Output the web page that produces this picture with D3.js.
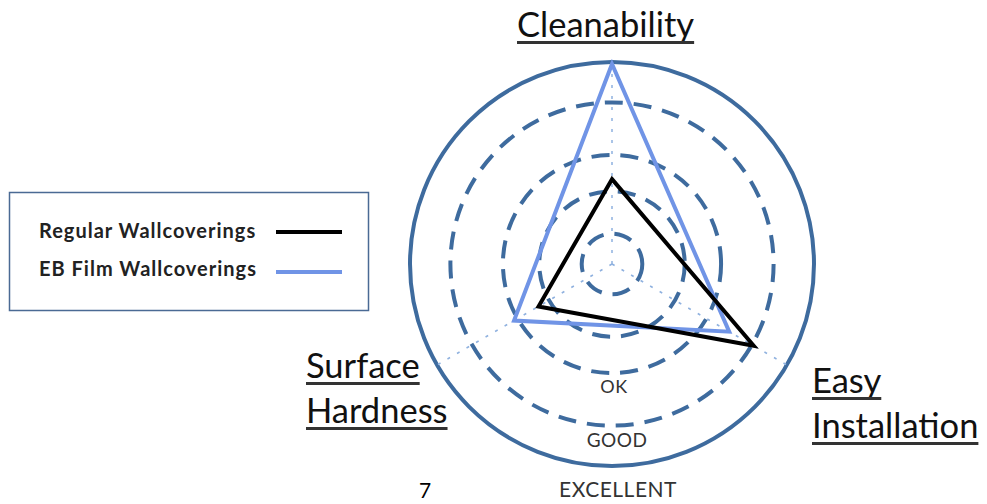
<!DOCTYPE html>
<html>
<head>
<meta charset="utf-8">
<script src="https://cdn.jsdelivr.net/npm/d3@7"></script>
<style>
  body { margin: 0; background: #fff; }
  svg text { font-family: Lato, "Open Sans", sans-serif; }
</style>
</head>
<body>
<div id="chart"></div>
<script>
// radar categories, clockwise from the top
var categories = ["Cleanability", "Easy Installation", "Surface Hardness"];
var labelLines = [["Cleanability"], ["Easy", "Installation"], ["Surface", "Hardness"]];

// series values (0-10 scale)
var seriesNames = ["Regular Wallcoverings", "EB Film Wallcoverings"];
var regularValues = [4.2, 8.1, 4.2];
var ebFilmValues = [9.9, 6.7, 5.6];

// rating rings and their labels
var ringValues = [1.5, 3.6, 5.4, 8.0];
var ringLabels = ["OK", "GOOD", "EXCELLENT"];
var ringLabelValues = [6.4, 9.05, 11.55];

var svgWidth = 987;
var svgHeight = 504;

var cx = 612, cy = 264;
var R = 202;

var svg = d3.select("#chart")
  .append("svg")
  .attr("width", svgWidth)
  .attr("height", svgHeight);

var rScale = d3.scaleLinear()
  .domain([0, 10])
  .range([0, R]);

var angle = d3.scaleOrdinal()
  .domain(categories)
  .range(categories.map((c, i) => i * 2 * Math.PI / categories.length));

var chartGroup = svg.append("g")
  .attr("transform", `translate(${cx}, ${cy})`);

// dashed rings
chartGroup.selectAll(".ring")
  .data(ringValues)
  .enter()
  .append("circle")
  .attr("class", "ring")
  .attr("r", d => rScale(d))
  .attr("fill", "none")
  .attr("stroke", "#3e6b9e")
  .attr("stroke-width", 4)
  .attr("stroke-dasharray", "18,11");

// outer ring
chartGroup.append("circle")
  .attr("r", rScale(10))
  .attr("fill", "none")
  .attr("stroke", "#3e6b9e")
  .attr("stroke-width", 4);

// dotted spokes
chartGroup.selectAll(".spoke")
  .data(categories)
  .enter()
  .append("line")
  .attr("class", "spoke")
  .attr("x1", 0)
  .attr("y1", 0)
  .attr("x2", d => rScale(10) * Math.sin(angle(d)))
  .attr("y2", d => -rScale(10) * Math.cos(angle(d)))
  .attr("stroke", "#8fb1df")
  .attr("stroke-width", 1.5)
  .attr("stroke-dasharray", "3,8");

// ring labels
chartGroup.selectAll(".ringLabel")
  .data(ringLabels)
  .enter()
  .append("text")
  .attr("class", "ringLabel")
  .attr("x", (d, i) => [2, 5, 6][i])
  .attr("y", (d, i) => rScale(ringLabelValues[i]))
  .attr("text-anchor", "middle")
  .attr("font-size", (d, i) => ["18px", "19px", "21px"][i])
  .attr("letter-spacing", "0.5px")
  .attr("fill", "#333")
  .text(d => d);

// series polygons
var radarLine = d3.lineRadial()
  .angle((d, i) => angle(categories[i]))
  .radius(d => rScale(d))
  .curve(d3.curveLinearClosed);

chartGroup.append("path")
  .attr("d", radarLine(ebFilmValues))
  .attr("fill", "none")
  .attr("stroke", "#7094e6")
  .attr("stroke-width", 4)
  .attr("stroke-linejoin", "miter");

chartGroup.append("path")
  .attr("d", radarLine(regularValues))
  .attr("fill", "none")
  .attr("stroke", "#000")
  .attr("stroke-width", 4)
  .attr("stroke-linejoin", "miter");

// category labels (underlined)
var labelPos = [
  {x: 517, y: 37},
  {x: 812, y: 393},
  {x: 306, y: 378}
];

labelLines.forEach(function(lines, i) {
  lines.forEach(function(line, j) {
    var t = svg.append("text")
      .attr("x", labelPos[i].x)
      .attr("y", labelPos[i].y + j * 45)
      .attr("font-size", "34.5px")
      .attr("fill", "#111")
      .text(line);
    var w = t.node().getComputedTextLength();
    svg.append("line")
      .attr("x1", labelPos[i].x)
      .attr("x2", labelPos[i].x + w)
      .attr("y1", labelPos[i].y + j * 45 + 5.5)
      .attr("y2", labelPos[i].y + j * 45 + 5.5)
      .attr("stroke", "#333")
      .attr("stroke-width", 3);
  });
});

// legend
var legend = svg.append("g");
legend.append("rect")
  .attr("x", 9.5)
  .attr("y", 192.5)
  .attr("width", 359)
  .attr("height", 118)
  .attr("fill", "#fff")
  .attr("stroke", "#4a6a94")
  .attr("stroke-width", 1.5);

var legendColors = ["#000", "#7094e6"];
seriesNames.forEach(function(name, i) {
  legend.append("text")
    .attr("x", 39)
    .attr("y", 238 + i * 38)
    .attr("font-size", "20px")
    .attr("font-weight", "bold")
    .attr("letter-spacing", "1px")
    .attr("fill", "#222")
    .text(name);
  legend.append("line")
    .attr("x1", 276)
    .attr("x2", 342)
    .attr("y1", 232 + i * 40)
    .attr("y2", 232 + i * 40)
    .attr("stroke", legendColors[i])
    .attr("stroke-width", 4);
});

// page number
svg.append("text")
  .attr("x", 419)
  .attr("y", 498)
  .attr("font-size", "21px")
  .attr("fill", "#000")
  .text("7");
</script>
</body>
</html>
